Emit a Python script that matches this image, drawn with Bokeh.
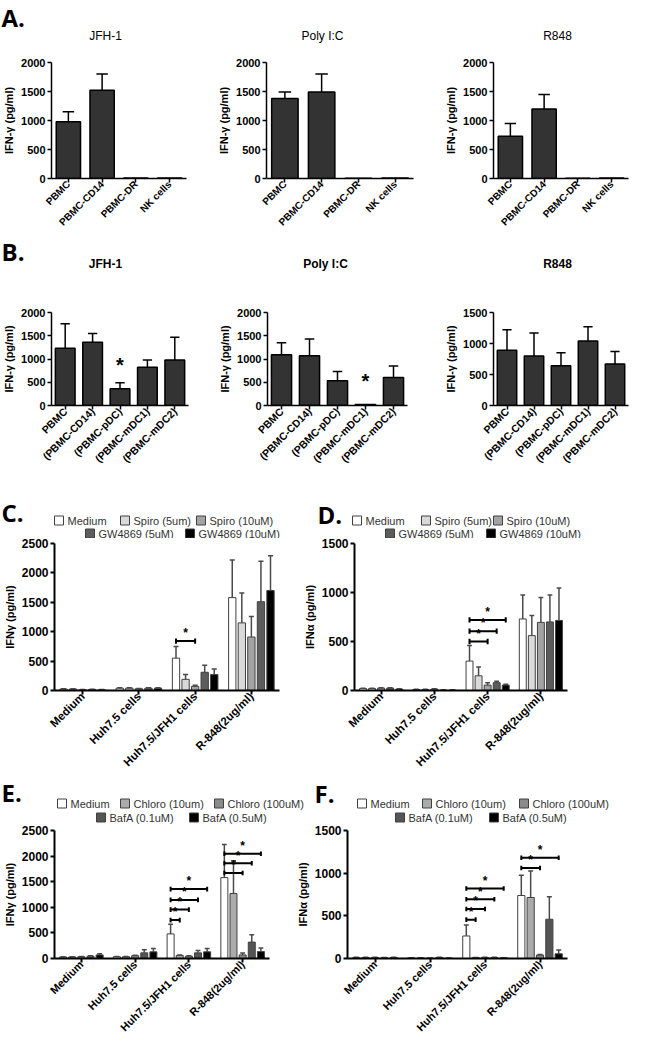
import math
from bokeh.plotting import figure
from bokeh.models import Range1d, FixedTicker
from bokeh.layouts import row, column
from bokeh.embed import file_html
from bokeh.resources import INLINE
from bokeh.core.properties import value

FONT = "Liberation Sans"
LETTER_FONT = "Open Sans"

# ---------------- Panel A data ----------------
A_categories = ["PBMC", "PBMC-CD14", "PBMC-DR", "NK cells"]
A_titles = ["JFH-1", "Poly I:C", "R848"]
A_jfh1 = [980, 1520, 8, 10]
A_jfh1_err = [170, 280, 0, 0]
A_polyic = [1380, 1490, 4, 8]
A_polyic_err = [110, 310, 0, 0]
A_r848 = [730, 1200, 4, 8]
A_r848_err = [220, 250, 0, 0]
A_yticks = [0, 500, 1000, 1500, 2000]

# ---------------- Panel B data ----------------
B_categories = ["PBMC", "(PBMC-CD14)", "(PBMC-pDC)", "(PBMC-mDC1)", "(PBMC-mDC2)"]
B_titles = ["JFH-1", "Poly I:C", "R848"]
B_jfh1 = [1230, 1360, 360, 820, 980]
B_jfh1_err = [530, 190, 130, 160, 490]
B_polyic = [1090, 1070, 530, 20, 600]
B_polyic_err = [260, 360, 200, 0, 250]
B_r848 = [890, 800, 640, 1040, 670]
B_r848_err = [330, 370, 210, 230, 200]
B_jfh1_stars = {"(PBMC-pDC)": 870}
B_polyic_stars = {"(PBMC-mDC1)": 520}
B_r848_stars = {}
B_yticks_2000 = [0, 500, 1000, 1500, 2000]
B_yticks_1500 = [0, 500, 1000, 1500]

# ---------------- Panels C-F data ----------------
CF_groups = ["Medium", "Huh7.5 cells", "Huh7.5/JFH1 cells", "R-848(2ug/ml)"]

CD_series = ["Medium", "Spiro (5um)", "Spiro (10uM)", "GW4869 (5uM)", "GW4869 (10uM)"]
CD_colors = ["#ffffff", "#d9d9d9", "#a3a3a3", "#5c5c5c", "#000000"]

C_medium = [25, 40, 550, 1580]
C_medium_err = [5, 8, 200, 640]
C_spiro5 = [25, 40, 190, 1150]
C_spiro5_err = [5, 8, 80, 510]
C_spiro10 = [12, 30, 70, 910]
C_spiro10_err = [4, 6, 20, 350]
C_gw5 = [18, 40, 310, 1510]
C_gw5_err = [4, 8, 120, 690]
C_gw10 = [12, 40, 270, 1700]
C_gw10_err = [4, 8, 95, 590]
C_brackets = [("Huh7.5/JFH1 cells", "Medium", "Spiro (10uM)", 840)]

D_medium = [20, 10, 300, 730]
D_medium_err = [3, 3, 160, 245]
D_spiro5 = [20, 10, 150, 560]
D_spiro5_err = [3, 3, 90, 205]
D_spiro10 = [25, 15, 55, 695]
D_spiro10_err = [4, 3, 25, 255]
D_gw5 = [25, 5, 80, 700]
D_gw5_err = [4, 2, 15, 275]
D_gw10 = [15, 5, 55, 715]
D_gw10_err = [3, 2, 8, 330]
D_brackets = [("Huh7.5/JFH1 cells", "Medium", "Spiro (10uM)", 500),
              ("Huh7.5/JFH1 cells", "Medium", "GW4869 (5uM)", 605),
              ("Huh7.5/JFH1 cells", "Medium", "GW4869 (10uM)", 720)]

EF_series = ["Medium", "Chloro (10um)", "Chloro (100uM)", "BafA (0.1uM)", "BafA (0.5uM)"]
EF_colors = ["#ffffff", "#ababab", "#8a8a8a", "#555555", "#000000"]

E_medium = [30, 35, 480, 1580]
E_medium_err = [4, 5, 190, 645]
E_chloro10 = [30, 35, 60, 1270]
E_chloro10_err = [4, 5, 10, 640]
E_chloro100 = [35, 55, 45, 70]
E_chloro100_err = [5, 8, 8, 35]
E_bafa01 = [45, 110, 110, 320]
E_bafa01_err = [8, 60, 45, 145]
E_bafa05 = [70, 130, 130, 135]
E_bafa05_err = [25, 65, 65, 70]
E_brackets = [("Huh7.5/JFH1 cells", "Medium", "Chloro (10um)", 750),
              ("Huh7.5/JFH1 cells", "Medium", "Chloro (100uM)", 955),
              ("Huh7.5/JFH1 cells", "Medium", "BafA (0.1uM)", 1145),
              ("Huh7.5/JFH1 cells", "Medium", "BafA (0.5uM)", 1355),
              ("R-848(2ug/ml)", "Medium", "Chloro (100uM)", 1670),
              ("R-848(2ug/ml)", "Medium", "BafA (0.1uM)", 1860),
              ("R-848(2ug/ml)", "Medium", "BafA (0.5uM)", 2045)]

F_medium = [12, 8, 264, 738]
F_medium_err = [3, 2, 130, 237]
F_chloro10 = [12, 8, 10, 715]
F_chloro10_err = [2, 2, 2, 310]
F_chloro100 = [12, 5, 12, 40]
F_chloro100_err = [2, 2, 2, 8]
F_bafa01 = [10, 12, 12, 460]
F_bafa01_err = [2, 2, 2, 265]
F_bafa05 = [12, 5, 8, 55]
F_bafa05_err = [2, 2, 2, 45]
F_brackets = [("Huh7.5/JFH1 cells", "Medium", "Chloro (10um)", 455),
              ("Huh7.5/JFH1 cells", "Medium", "Chloro (100uM)", 580),
              ("Huh7.5/JFH1 cells", "Medium", "BafA (0.1uM)", 695),
              ("Huh7.5/JFH1 cells", "Medium", "BafA (0.5uM)", 820),
              ("R-848(2ug/ml)", "Medium", "Chloro (100uM)", 1060),
              ("R-848(2ug/ml)", "Medium", "BafA (0.5uM)", 1180)]

Y_2500 = [0, 500, 1000, 1500, 2000, 2500]
Y_1500 = [0, 500, 1000, 1500]

# ---------------- helpers ----------------

def make_axes(width, height, bl, br, bt, bb, cat_labels, y_end, y_ticks, ylabel,
              axis_w, tick_size, xlab_size):
    n = len(cat_labels)
    p = figure(width=width, height=height, title=None,
               x_range=Range1d(0, n), y_range=Range1d(0, y_end),
               output_backend="svg", toolbar_location=None,
               min_border_left=bl, min_border_right=br,
               min_border_top=bt, min_border_bottom=bb)
    p.xgrid.visible = False
    p.ygrid.visible = False
    p.outline_line_color = None
    p.background_fill_color = "white"
    p.border_fill_color = "white"
    centers = [i + 0.5 for i in range(n)]
    p.xaxis.ticker = FixedTicker(ticks=centers)
    p.xaxis.major_label_overrides = dict(zip(centers, cat_labels))
    p.xaxis.major_label_orientation = math.pi / 4
    p.yaxis.ticker = FixedTicker(ticks=y_ticks)
    for ax in (p.xaxis[0], p.yaxis[0]):
        ax.axis_line_width = axis_w
        ax.axis_line_color = "black"
        ax.major_tick_line_width = axis_w
        ax.major_tick_line_color = "black"
        ax.major_tick_out = 4
        ax.major_tick_in = 0
        ax.minor_tick_out = 0
        ax.minor_tick_in = 0
        ax.major_label_text_font = FONT
        ax.major_label_text_font_style = "bold"
        ax.major_label_text_color = "black"
    p.xaxis.major_label_standoff = 0
    p.yaxis.major_label_standoff = 2
    p.xaxis.major_label_text_font_size = xlab_size
    p.yaxis.major_label_text_font_size = tick_size
    p.yaxis.axis_label = ylabel
    p.yaxis.axis_label_text_font = FONT
    p.yaxis.axis_label_text_font_style = "bold"
    p.yaxis.axis_label_text_font_size = "11px"
    p.yaxis.axis_label_standoff = 3
    p.yaxis.axis_label_text_color = "black"
    return p


def header(width, height):
    h = figure(width=width, height=height, title=None,
               x_range=Range1d(0, width), y_range=Range1d(0, height),
               x_axis_location=None, y_axis_location=None,
               output_backend="svg", toolbar_location=None, min_border=0)
    h.grid.visible = False
    h.outline_line_color = None
    h.background_fill_color = "white"
    h.border_fill_color = "white"
    return h


def htext(h, xs, ys, texts, size, bold=True, align="left", font=FONT, color="black"):
    h.text(x=xs, y=ys, text=texts, text_font=value(font), text_font_size=size,
           text_font_style="bold" if bold else "normal", text_align=align,
           text_baseline="middle", text_color=color)


def hlegend(h, names, colors, xs, y):
    h.rect(x=[x + 4.5 for x in xs], y=[y] * len(xs), width=9, height=9,
           fill_color=colors, line_color="#404040", line_width=1)
    htext(h, [x + 13 for x in xs], [y] * len(xs), names, "11px", bold=False,
          color="#333333")


def simple_bars(p, cats, vals, errs, stars, cap=0.17):
    xs = [i + 0.5 for i in range(len(cats))]
    p.vbar(x=xs, top=vals, width=0.72, bottom=0, fill_color="#333333",
           line_color="black", line_width=1.5)
    ex = [x for x, e in zip(xs, errs) if e > 0]
    ev = [v for v, e in zip(vals, errs) if e > 0]
    et = [v + e for v, e in zip(vals, errs) if e > 0]
    p.segment(x0=ex, y0=ev, x1=ex, y1=et, line_color="black", line_width=1.5)
    p.segment(x0=[x - cap for x in ex], y0=et, x1=[x + cap for x in ex], y1=et,
              line_color="black", line_width=1.5)
    if stars:
        sx = [cats.index(c) + 0.5 for c in stars]
        sy = list(stars.values())
        p.text(x=sx, y=sy, text=["*"] * len(sx), text_font=value(FONT),
               text_font_style="bold", text_font_size="20px", text_align="center",
               text_baseline="middle", text_color="black")


OFF = 0.17
BW = 0.13
CAP = 0.045


def grouped_bars(p, series, colors, values, errors, brackets, y_end):
    k = len(series)
    n = len(CF_groups)
    for j, (name, col) in enumerate(zip(series, colors)):
        vals = values[j]
        errs = errors[j]
        xs = [i + 0.5 + (j - (k - 1) / 2) * OFF for i in range(n)]
        p.vbar(x=xs, top=vals, width=BW, bottom=0, fill_color=col,
               line_color="#404040", line_width=1)
        tops = [v + e for v, e in zip(vals, errs)]
        p.segment(x0=xs, y0=vals, x1=xs, y1=tops, line_color="#4a4a4a", line_width=1.5)
        p.segment(x0=[x - CAP for x in xs], y0=tops, x1=[x + CAP for x in xs], y1=tops,
                  line_color="#4a4a4a", line_width=1.5)
    c = y_end * 0.018
    for grp, s1, s2, y in brackets:
        gi = CF_groups.index(grp)
        x1 = gi + 0.5 + (series.index(s1) - (k - 1) / 2) * OFF
        x2 = gi + 0.5 + (series.index(s2) - (k - 1) / 2) * OFF
        p.segment(x0=[x1], y0=[y], x1=[x2], y1=[y], line_color="black", line_width=2)
        p.segment(x0=[x1, x2], y0=[y - c, y - c], x1=[x1, x2], y1=[y + c, y + c],
                  line_color="black", line_width=2)
        p.text(x=[(x1 + x2) / 2], y=[y + c * 0.3], text=["*"], text_font=value(FONT),
               text_font_style="bold", text_font_size="12px", text_align="center",
               text_baseline="bottom", text_color="black")


# ---------------- Row A ----------------
hA = header(632, 52)
htext(hA, [1], [35], ["A."], "24px", font=LETTER_FONT)
htext(hA, [105, 322, 557], [17] * 3, A_titles, "12px", bold=False, align="center")

A_vals = [(A_jfh1, A_jfh1_err), (A_polyic, A_polyic_err), (A_r848, A_r848_err)]
A_geom = [(210, 48, 24), (232, 56, 29), (190, 50, 4)]
rowA = []
for (vals, errs), (w, bl, br) in zip(A_vals, A_geom):
    p = make_axes(w, 182, bl, br, 10, 52, A_categories, 2000, A_yticks,
                  "IFN-\u03b3 (pg/ml)", 1.5, "11px", "10px")
    simple_bars(p, A_categories, vals, errs, {})
    rowA.append(p)

# ---------------- Row B ----------------
hB = header(632, 68)
htext(hB, [1], [51], ["B."], "24px", font=LETTER_FONT)
htext(hB, [105, 325, 557], [39] * 3, B_titles, "12px", bold=True, align="center")

B_vals = [(B_jfh1, B_jfh1_err, B_jfh1_stars, 2000, B_yticks_2000),
          (B_polyic, B_polyic_err, B_polyic_stars, 2000, B_yticks_2000),
          (B_r848, B_r848_err, B_r848_stars, 1500, B_yticks_1500)]
B_geom = [(210, 48, 22), (232, 57, 35), (190, 50, 4)]
rowB = []
for (vals, errs, stars, yend, yt), (w, bl, br) in zip(B_vals, B_geom):
    p = make_axes(w, 183, bl, br, 10, 80, B_categories, yend, yt,
                  "IFN-\u03b3 (pg/ml)", 1.5, "11px", "10.5px")
    simple_bars(p, B_categories, vals, errs, stars)
    rowB.append(p)

# ---------------- Row C/D ----------------
hC = header(300, 53)
htext(hC, [1], [26], ["C."], "24px", font=LETTER_FONT)
hlegend(hC, CD_series[:3], CD_colors[:3], [54, 120, 196], 18)
hlegend(hC, CD_series[3:], CD_colors[3:], [85, 185], 5)

pC = make_axes(300, 237, 51, 21, 5, 82, CF_groups, 2500, Y_2500,
               "IFN\u03b3 (pg/ml)", 2, "12px", "11.5px")
grouped_bars(pC, CD_series, CD_colors,
             [C_medium, C_spiro5, C_spiro10, C_gw5, C_gw10],
             [C_medium_err, C_spiro5_err, C_spiro10_err, C_gw5_err, C_gw10_err],
             C_brackets, 2500)

hD = header(332, 53)
htext(hD, [17], [24], ["D."], "24px", font=LETTER_FONT)
hlegend(hD, CD_series[:3], CD_colors[:3], [52, 121, 193], 18)
hlegend(hD, CD_series[3:], CD_colors[3:], [85, 186], 5)

pD = make_axes(332, 237, 49, 65, 4, 85, CF_groups, 1500, Y_1500,
               "IFN\u03b1 (pg/ml)", 2, "12px", "11.5px")
grouped_bars(pD, CD_series, CD_colors,
             [D_medium, D_spiro5, D_spiro10, D_gw5, D_gw10],
             [D_medium_err, D_spiro5_err, D_spiro10_err, D_gw5_err, D_gw10_err],
             D_brackets, 1500)

# ---------------- Row E/F ----------------
hE = header(307, 49)
htext(hE, [1], [32], ["E."], "24px", font=LETTER_FONT)
hlegend(hE, EF_series[:3], EF_colors[:3], [57, 120, 214], 21)
hlegend(hE, EF_series[3:], EF_colors[3:], [96, 189], 7)

pE = make_axes(285, 216, 50, 16, 6, 78, CF_groups, 2500, Y_2500,
               "IFN\u03b3 (pg/ml)", 2, "12px", "11px")
grouped_bars(pE, EF_series, EF_colors,
             [E_medium, E_chloro10, E_chloro100, E_bafa01, E_bafa05],
             [E_medium_err, E_chloro10_err, E_chloro100_err, E_bafa01_err, E_bafa05_err],
             E_brackets, 2500)

hF = header(325, 49)
htext(hF, [7], [31], ["F."], "24px", font=LETTER_FONT)
hlegend(hF, EF_series[:3], EF_colors[:3], [50, 115, 212], 21)
hlegend(hF, EF_series[3:], EF_colors[3:], [88, 182], 7)

pF = make_axes(347, 216, 62, 65, 6, 78, CF_groups, 1500, Y_1500,
               "IFN\u03b1 (pg/ml)", 2, "12px", "11px")
grouped_bars(pF, EF_series, EF_colors,
             [F_medium, F_chloro10, F_chloro100, F_bafa01, F_bafa05],
             [F_medium_err, F_chloro10_err, F_chloro100_err, F_bafa01_err, F_bafa05_err],
             F_brackets, 1500)

layout = column(
    hA, row(*rowA),
    hB, row(*rowB),
    row(hC, hD), row(pC, pD),
    row(hE, hF), row(pE, pF),
)

open("out.html", "w").write(file_html(layout, INLINE))
